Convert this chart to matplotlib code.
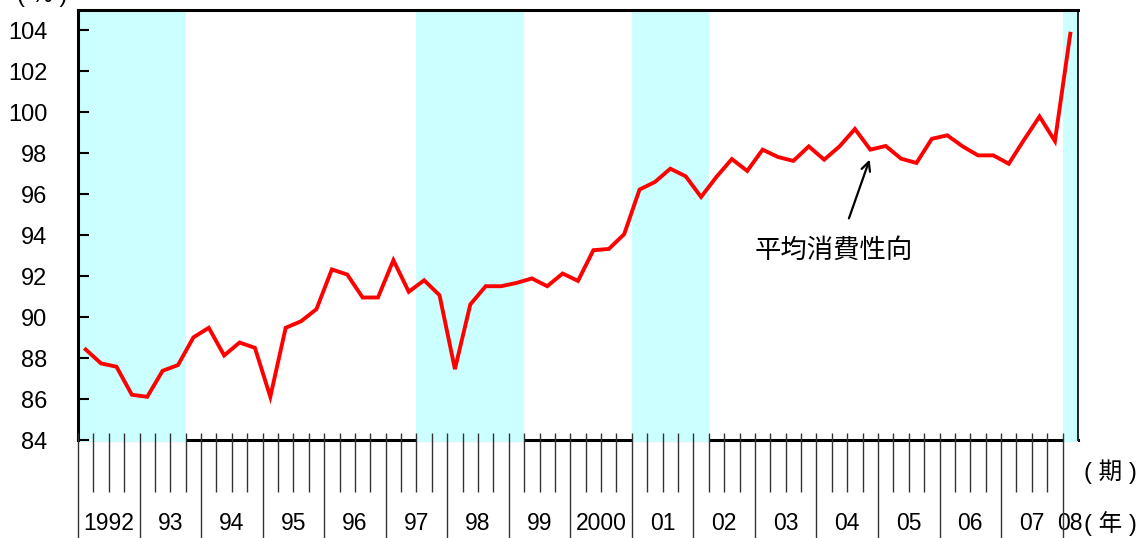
import matplotlib
matplotlib.use("Agg")
import matplotlib.pyplot as plt
import numpy as np

plt.rcParams["font.family"] = ["Liberation Sans", "Noto Sans CJK JP", "DejaVu Sans"]

# 平均消費性向(四半期, 1992Q1 - 2008Q1)
apc = [88.42, 87.74, 87.58, 86.21, 86.11, 87.38, 87.66, 89.01,
       89.48, 88.13, 88.76, 88.50, 86.11, 89.48, 89.80, 90.39,
       92.33, 92.08, 90.96, 90.96, 92.78, 91.24, 91.80, 91.07,
       87.46, 90.62, 91.51, 91.51, 91.67, 91.89, 91.51, 92.13,
       91.77, 93.27, 93.33, 94.05, 96.23, 96.60, 97.25, 96.88,
       95.87, 96.85, 97.72, 97.14, 98.18, 97.82, 97.63, 98.34,
       97.69, 98.34, 99.19, 98.18, 98.36, 97.74, 97.53, 98.71,
       98.88, 98.34, 97.90, 97.90, 97.49, 98.67, 99.80, 98.60,
       103.84]
year_labels = ["1992", "93", "94", "95", "96", "97", "98", "99", "2000",
               "01", "02", "03", "04", "05", "06", "07", "08"]
# 景気後退期 (開始四半期番号, 終了四半期番号) ※1992Q1 = 0
recessions = [(0, 7), (22, 29), (36, 41), (64, 65)]
yticks = [84, 86, 88, 90, 92, 94, 96, 98, 100, 102, 104]

SHADE = "#ccffff"
W, H = 1145, 538

fig = plt.figure(figsize=(W / 100, H / 100), dpi=100)
ax = fig.add_axes([78 / W, 98 / H, 1000 / W, 430 / H])

n = len(apc)
x = np.arange(n) + 0.5
ax.set_xlim(0, n)
ax.set_ylim(84, 105)

for a, b in recessions:
    ax.axvspan(a, b, ymin=-0.004, ymax=1, color=SHADE, lw=0, zorder=1, clip_on=False)

ax.plot(x, apc, color="#ff0000", lw=2.8, zorder=4, solid_joinstyle="miter")

# spines
for s in ["top", "bottom", "left"]:
    ax.spines[s].set_linewidth(2.2)
    ax.spines[s].set_color("black")
ax.spines["right"].set_linewidth(1.4)
ax.spines["right"].set_color("#222222")
ax.spines["bottom"].set_zorder(0.5)
ax.spines["top"].set_zorder(5)
ax.spines["left"].set_zorder(5)
ax.spines["right"].set_zorder(5)

ax.set_yticks(yticks)
ax.set_yticklabels([str(v) for v in yticks])
ax.tick_params(axis="y", direction="in", length=8, width=1.5, labelsize=17, pad=22)
ax.set_xticks([])

# 期・年の目盛り線
xtr = ax.get_xaxis_transform()
q_lines = [i for i in range(1, n) if i % 4 != 0]
y_lines = [i for i in range(0, n + 1) if i % 4 == 0]
ax.vlines(q_lines, -0.121, 0.0163, transform=xtr, color="#333333", lw=1.0,
          clip_on=False, zorder=6)
ax.vlines(y_lines, -0.25, 0.0163, transform=xtr, color="#333333", lw=1.0,
          clip_on=False, zorder=6)

for k, lab in enumerate(year_labels):
    xc = (4 * k + min(4 * k + 4, n)) / 2
    ax.text(xc, -0.195, lab, transform=xtr, ha="center", va="center",
            fontsize=16.5, clip_on=False)

ax.text(1110 / W, 1 - 472 / H, "( 期 )", transform=fig.transFigure,
        ha="center", va="center", fontsize=17)
ax.text(1110 / W, 1 - 524 / H, "( 年 )", transform=fig.transFigure,
        ha="center", va="center", fontsize=17)
fig.text(42 / W, 1 + 4 / H, "( % )", ha="center", va="center", fontsize=17)

ax.annotate("", xy=(870.5 / W, 1 - 157 / H), xytext=(848 / W, 1 - 221 / H),
            xycoords="figure fraction", textcoords="figure fraction",
            arrowprops=dict(arrowstyle="->", color="black", lw=1.6,
                            mutation_scale=16), zorder=7)
fig.text(834 / W, 1 - 250 / H, "平均消費性向", ha="center", va="center",
         fontsize=19, family=["Noto Sans CJK JP", "DejaVu Sans"])

fig.savefig("out.png", dpi=100)
